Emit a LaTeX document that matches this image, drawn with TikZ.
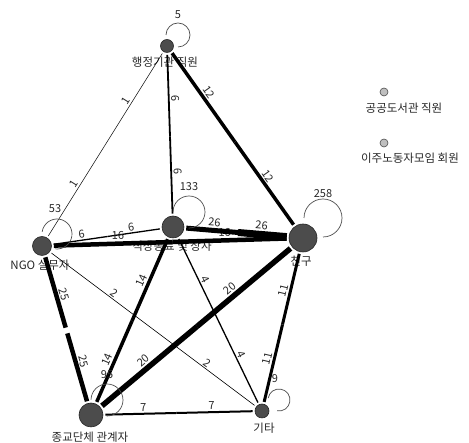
\documentclass[tikz,border=0pt]{standalone}
\usepackage{fontspec}
\setmainfont{Noto Sans CJK KR}
\usetikzlibrary{calc}
\pgfdeclarelayer{bg}
\pgfsetlayers{bg,main}
\tikzset{
  vert/.style={circle, draw=black!85, fill=black!70, line width=0.6pt, inner sep=0pt, minimum size=#1},
  iso/.style={circle, draw=black!70, fill=black!25, line width=0.6pt, inner sep=0pt, minimum size=8pt},
  vname/.style={font=\fontsize{11.5}{13}\selectfont, inner sep=0pt, text=black!85},
  num/.style={font=\fontsize{11}{12}\selectfont, inner sep=1.5pt, sloped, above, text=black!85},
  lnum/.style={font=\fontsize{11}{12}\selectfont, inner sep=0pt, text=black!85},
  loopline/.style={draw=black!70, line width=0.7pt},
  ed/.style={line width=#1, shorten <=2pt},
}
\begin{document}
\begin{tikzpicture}[x=1pt,y=1pt]
\useasboundingbox (0,0) rectangle (469,443);
% vertices
\node[vert=13pt] (A) at (167,397) {};
\node[vert=19pt] (N) at (42,197) {};
\node[vert=22pt] (W) at (173,216) {};
\node[vert=28pt] (F) at (303,205) {};
\node[vert=24pt] (R) at (91,28) {};
\node[vert=14pt] (E) at (262,32) {};
\node[iso] (P) at (384,351) {};
\node[iso] (M) at (384,300) {};
\begin{pgfonlayer}{bg}
% vertex names
\node[vname] (tA) at (165,381) {행정기관 직원};
\node[vname] (tN) at (40,178) {NGO 실무자};
\node[vname] (tW) at (172,197) {직장동료 및 상사};
\node[vname] (tF) at (301,182) {친구};
\node[vname] (tR) at (90,6) {종교단체 관계자};
\node[vname] (tE) at (264,15) {기타};
\node[vname] (tP) at (404,335) {공공도서관 직원};
\node[vname] (tM) at (410,285) {이주노동자모임 회원};
% edges (two halves each)
\draw[ed=0.5pt] (A) -- ($(A)!0.5!(N)$) node[num,pos=0.55]{1};
\draw[ed=0.5pt] (N) -- ($(A)!0.5!(N)$) node[num,pos=0.55]{1};
\draw[ed=1.8pt] (A) -- ($(A)!0.5!(W)$) node[num,pos=0.55]{6};
\draw[ed=1.8pt] (W) -- ($(A)!0.5!(W)$) node[num,pos=0.55]{6};
\draw[ed=3.5pt] (A) -- ($(A)!0.5!(F)$) node[num,pos=0.5]{12};
\draw[ed=3.5pt] (F) -- ($(A)!0.5!(F)$) node[num,pos=0.55]{12};
\draw[ed=1.3pt] (N) -- ($(N)!0.5!(W)$) node[num,pos=0.55]{6};
\draw[ed=1.3pt] (W) -- ($(N)!0.5!(W)$) node[num,pos=0.55]{6};
\draw[ed=4.5pt] (N) -- ($(N)!0.5!(F)$) node[num,pos=0.55]{16};
\draw[ed=4.5pt] (F) -- ($(N)!0.5!(F)$) node[num,pos=0.55]{16};
\draw[ed=5pt] (W) -- ($(W)!0.5!(F)$) node[num,pos=0.55]{26};
\draw[ed=7pt] (F) -- ($(W)!0.5!(F)$) node[num,pos=0.55]{26};
\draw[ed=4.5pt, shorten >=3pt] (N) -- ($(N)!0.5!(R)$) node[num,pos=0.55]{25};
\draw[ed=4.5pt, shorten >=3pt] (R) -- ($(N)!0.5!(R)$) node[num,pos=0.55]{25};
\draw[ed=0.6pt] (N) -- ($(N)!0.5!(E)$) node[num,pos=0.6]{2};
\draw[ed=0.6pt] (E) -- ($(N)!0.5!(E)$) node[num,pos=0.5]{2};
\draw[ed=3.5pt] (W) -- ($(W)!0.5!(R)$) node[num,pos=0.55]{14};
\draw[ed=3.5pt] (R) -- ($(W)!0.5!(R)$) node[num,pos=0.5]{14};
\draw[ed=1.3pt] (W) -- ($(W)!0.5!(E)$) node[num,pos=0.55]{4};
\draw[ed=1.3pt] (E) -- ($(W)!0.5!(E)$) node[num,pos=0.55]{4};
\draw[ed=5.5pt] (F) -- ($(F)!0.5!(R)$) node[num,pos=0.6]{20};
\draw[ed=5.5pt] (R) -- ($(F)!0.5!(R)$) node[num,pos=0.5]{20};
\draw[ed=3pt] (F) -- ($(F)!0.5!(E)$) node[num,pos=0.55]{11};
\draw[ed=3pt] (E) -- ($(F)!0.5!(E)$) node[num,pos=0.55]{11};
\draw[ed=2pt] (R) -- ($(R)!0.5!(E)$) node[num,pos=0.55]{7};
\draw[ed=2pt] (E) -- ($(R)!0.5!(E)$) node[num,pos=0.55]{7};
\end{pgfonlayer}
% self loops
\coordinate (cA) at (178,408);
\coordinate (cN) at (57,209);
\coordinate (cW) at (189,231);
\coordinate (cF) at (323,225);
\coordinate (cR) at (107,43);
\coordinate (cE) at (279,43);
\draw[loopline] ([shift={(180:12pt)}]cA) arc[start angle=180, end angle=-90, radius=12pt];
\draw[loopline] ([shift={(172:15pt)}]cN) arc[start angle=172, end angle=-98, radius=15pt];
\draw[loopline] ([shift={(179:16pt)}]cW) arc[start angle=179, end angle=-91, radius=16pt];
\draw[loopline] ([shift={(180:19pt)}]cF) arc[start angle=180, end angle=-90, radius=19pt];
\draw[loopline] ([shift={(179:16pt)}]cR) arc[start angle=179, end angle=-91, radius=16pt];
\draw[loopline] ([shift={(170:11pt)}]cE) arc[start angle=170, end angle=-100, radius=11pt];
\node[lnum] (lA) at ($(cA)+(0,20)$) {5};
\node[lnum] (lN) at ($(cN)+(-2,25)$) {53};
\node[lnum] (lW) at ($(cW)+(0,25)$) {133};
\node[lnum] (lF) at ($(cF)+(0,24)$) {258};
\node[lnum] (lR) at ($(cR)+(0,25)$) {95};
\node[lnum] (lE) at ($(cE)+(-4,21)$) {9};
\end{tikzpicture}
\end{document}
